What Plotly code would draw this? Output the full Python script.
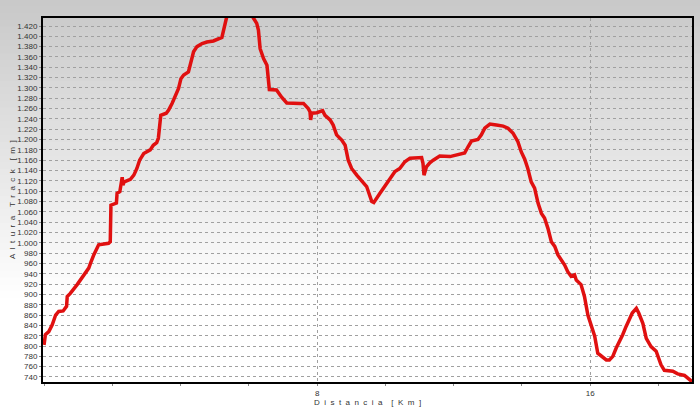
import plotly.graph_objects as go

# Elevation profile
dist_km = [0.00, 0.04, 0.14, 0.24, 0.34, 0.43, 0.56, 0.66, 0.68, 0.77, 0.97, 1.16, 1.31, 1.36, 1.46, 1.60,
           1.89, 1.94, 1.96, 2.12, 2.14, 2.22, 2.27, 2.29, 2.31, 2.35, 2.53, 2.63, 2.72, 2.80, 2.92, 3.11,
           3.20, 3.30, 3.35, 3.40, 3.42, 3.58, 3.65, 3.75, 3.84, 3.94, 4.01, 4.09, 4.23, 4.30, 4.38, 4.48,
           4.63, 4.77, 4.96, 5.21, 5.28, 5.36, 6.09, 6.23, 6.28, 6.33, 6.43, 6.53, 6.60, 6.81, 6.96, 7.11,
           7.50, 7.60, 7.74, 7.79, 7.81, 7.84, 7.99, 8.16, 8.23, 8.38, 8.47, 8.57, 8.72, 8.82, 8.91, 9.01,
           9.16, 9.35, 9.45, 9.60, 9.66, 9.84, 10.03, 10.28, 10.42, 10.57, 10.72, 11.06, 11.10, 11.13, 11.20,
           11.30, 11.40, 11.59, 11.89, 12.18, 12.32, 12.42, 12.52, 12.71, 12.81, 12.91, 13.06, 13.25, 13.45,
           13.59, 13.74, 13.88, 13.98, 14.08, 14.17, 14.27, 14.37, 14.47, 14.57, 14.66, 14.76, 14.86, 14.96,
           15.05, 15.15, 15.25, 15.34, 15.44, 15.54, 15.59, 15.73, 15.83, 15.93, 16.03, 16.13, 16.22, 16.32,
           16.47, 16.56, 16.66, 16.76, 16.86, 16.95, 17.05, 17.15, 17.23, 17.35, 17.42, 17.54, 17.64, 17.78,
           17.93, 18.07, 18.17, 18.42, 18.56, 18.76, 18.86, 18.98]
altitude_m = [802, 822, 828, 841, 860, 867, 868, 877, 896, 902, 919, 938, 951, 960, 977, 996,
              999, 1002, 1073, 1077, 1096, 1099, 1118, 1127, 1112, 1118, 1123, 1131, 1144, 1160, 1173, 1180,
              1189, 1194, 1203, 1231, 1247, 1251, 1257, 1270, 1283, 1299, 1318, 1325, 1331, 1347, 1370, 1380,
              1386, 1389, 1391, 1398, 1415, 1440, 1440, 1425, 1412, 1376, 1357, 1344, 1297, 1296, 1282, 1271,
              1270, 1270, 1260, 1254, 1238, 1251, 1252, 1256, 1247, 1238, 1228, 1209, 1199, 1189, 1160, 1144,
              1131, 1118, 1109, 1080, 1078, 1096, 1115, 1138, 1144, 1157, 1164, 1165, 1154, 1131, 1147,
              1155, 1160, 1168, 1167, 1172, 1174, 1186, 1197, 1200, 1209, 1222, 1230, 1228, 1226,
              1222, 1212, 1196, 1176, 1162, 1144, 1118, 1106, 1077, 1057, 1048, 1028, 1002, 993,
              977, 967, 957, 944, 935, 938, 928, 919, 896, 860, 841, 819, 786, 780,
              773, 773, 780, 796, 809, 822, 838, 851, 864, 873, 864, 844, 815, 799,
              790, 764, 753, 751, 746, 743, 738, 731]

y_ticks = list(range(740, 1421, 20))
x_label_ticks = [8, 16]
x_label_text = ["8", "16"]
x_title = "Distancia [Km]"
y_title = "Altura Track [m]"

W, H = 700, 407
ML, MR, MT, MB = 43, 8, 18, 25
plot_h = H - MT - MB


def spaced(s):
    gap = "\u00a0\u00a0"
    return (gap * 2).join(gap.join(word) for word in s.split(" "))


fig = go.Figure()
fig.add_trace(go.Scatter(x=dist_km, y=altitude_m, mode="lines",
                         line=dict(color="#e01010", width=3.5), hoverinfo="x+y"))

# background gradient (grey at the top fading to white)
shapes = []
n = 60
for i in range(n):
    y0px = H * i / n
    y1px = H * (i + 1) / n
    mid = (y0px + y1px) / 2
    t = min(1.0, mid / 300.0)
    v = int(round(200 + 55 * t))
    col = f"rgb({v},{v},{v})"
    p0 = (H - MB - y1px) / plot_h
    p1 = (H - MB - y0px) / plot_h
    shapes.append(dict(type="rect", xref="paper", yref="paper",
                       x0=-ML / (W - ML - MR) - 0.01, x1=1 + MR / (W - ML - MR) + 0.01,
                       y0=p0 - 0.002, y1=p1 + 0.002,
                       fillcolor=col, line=dict(width=0), layer="below"))

fig.update_layout(
    width=W, height=H,
    margin=dict(l=ML, r=MR, t=MT, b=MB, autoexpand=False),
    paper_bgcolor="white",
    plot_bgcolor="rgba(0,0,0,0)",
    separators=",.",
    showlegend=False,
    shapes=shapes,
    font=dict(family="Liberation Sans, Arial, sans-serif", size=8, color="#333333"),
    xaxis=dict(range=[-0.03, 18.98], tickvals=x_label_ticks, ticktext=x_label_text,
               showgrid=True, gridcolor="#a0a0a0", griddash="dot", gridwidth=1,
               ticks="outside", ticklen=2, tickcolor="#888888",
               minor=dict(tick0=0, dtick=2, ticks="outside", ticklen=2, tickcolor="#888888", showgrid=False),
               showline=True, linecolor="black", linewidth=2, mirror=True,
               zeroline=False, fixedrange=True, automargin=False,
               tickfont=dict(size=8, color="#333333")),
    yaxis=dict(range=[730.3, 1435.5], tickvals=y_ticks, tickformat=",d",
               showgrid=True, gridcolor="#a0a0a0", griddash="dot", gridwidth=1,
               ticks="outside", ticklen=2, tickcolor="#888888",
               showline=True, linecolor="black", linewidth=2, mirror=True,
               zeroline=False, fixedrange=True, automargin=False,
               tickfont=dict(size=8, color="#333333")),
    annotations=[
        dict(text=spaced(x_title), xref="paper", yref="paper",
             x=0.5, y=0, yshift=-20.5, xanchor="center", yanchor="middle",
             showarrow=False, font=dict(size=8, color="#333333")),
        dict(text=spaced(y_title), xref="paper", yref="paper",
             x=0, y=0.5, xshift=-31, xanchor="center", yanchor="middle", textangle=-90,
             showarrow=False, font=dict(size=8, color="#333333")),
    ],
)

fig.write_html("out.html", config={"displayModeBar": False},
               post_script="document.body.style.margin='0px';document.body.style.padding='0px';")
